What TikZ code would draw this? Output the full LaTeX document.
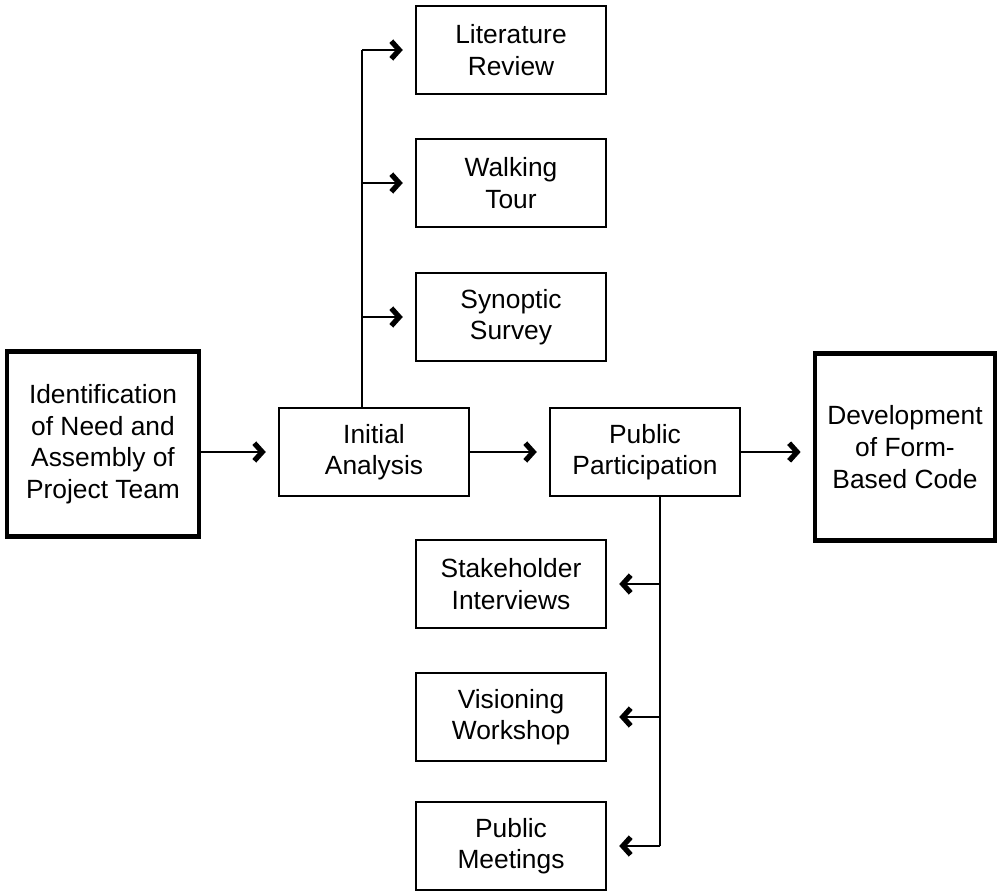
\documentclass[tikz,border=0pt]{standalone}
\usepackage{fontspec}
\setmainfont{Liberation Sans}
\usetikzlibrary{arrows.meta}

\tikzset{
  stage/.style={draw, line width=1.1pt, minimum width=3.8cm, minimum height=1.76cm,
    align=center, font=\fontsize{15}{18}\selectfont, inner sep=2pt},
  bigstage/.style={stage, line width=2.4pt},
  arr/.style={line width=1.1pt, -{Straight Barb[length=4.5pt,width=10pt,line width=3pt,line join=miter]}, shorten >=7pt},
  link/.style={line width=1.1pt}
}

\begin{document}
\begin{tikzpicture}[x=0.02cm, y=-0.02cm]
  \useasboundingbox (0,0) rectangle (1000,892);

  % main row
  \node[bigstage, minimum width=3.84cm, minimum height=3.7cm] (need) at (103,444)
    {Identification\\of Need and\\Assembly of\\Project Team};
  \node[stage] (init) at (374,452) {Initial\\Analysis};
  \node[stage] (part) at (645,452) {Public\\Participation};
  \node[bigstage, minimum width=3.6cm, minimum height=3.74cm] (code) at (905,447)
    {Development\\of Form-\\Based Code};

  % analysis tasks
  \node[stage] (lit)  at (511,50)  {Literature\\Review};
  \node[stage] (walk) at (511,183) {Walking\\Tour};
  \node[stage] (syn)  at (511,317) {Synoptic\\Survey};

  % participation tasks
  \node[stage] (stake) at (511,584) {Stakeholder\\Interviews};
  \node[stage] (vis)   at (511,717) {Visioning\\Workshop};
  \node[stage] (meet)  at (511,846) {Public\\Meetings};

  \draw[arr] (need.east |- init) -- (init);
  \draw[arr] (init) -- (part);
  \draw[arr] (part) -- (part -| code.west);

  % branch up
  \coordinate (trunkA) at (362,0);
  \draw[link] (init.north -| trunkA) -- (lit.west -| trunkA);
  \foreach \n in {lit,walk,syn}
    \draw[arr] (\n.west -| trunkA) -- (\n.west);

  % branch down
  \coordinate (trunkB) at (660,0);
  \draw[link] (part.south -| trunkB) -- (meet.east -| trunkB);
  \foreach \n in {stake,vis,meet}
    \draw[arr] (\n.east -| trunkB) -- (\n.east);
\end{tikzpicture}
\end{document}
